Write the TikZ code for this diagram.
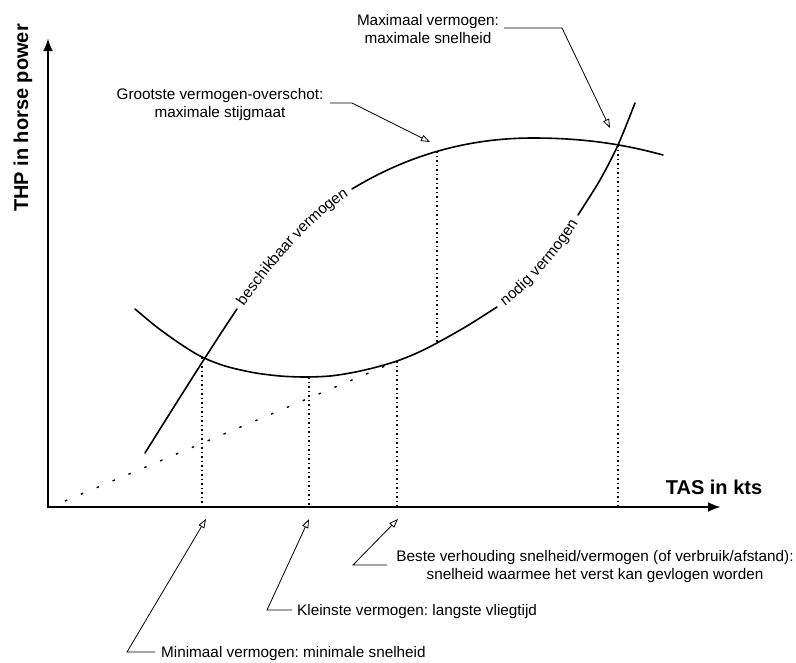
\documentclass[tikz,border=0pt]{standalone}
\usepackage{fontspec}
\setmainfont{Liberation Sans}
\usetikzlibrary{arrows.meta,decorations.text}
\newcommand\curvefont{\fontsize{15.3}{18}\selectfont}
\frenchspacing
\begin{document}
\begin{tikzpicture}[x=1pt,y=-1pt,
  axisline/.style={line width=2.6pt, line join=miter, {Latex[length=13pt,width=10pt]}-{Latex[length=13pt,width=10pt]}},
  curveline/.style={line width=1.6pt, line cap=round},
  vdots/.style={line width=1.3pt, dash pattern=on 1.8pt off 2.7pt},
  tangentdots/.style={line width=1.4pt, dash pattern=on 2.5pt off 14.7pt},
  leader/.style={line width=0.8pt, -{Triangle[open,length=9pt,width=6.5pt]}},
  annot/.style={font=\fontsize{15.3}{18}\selectfont, inner sep=0pt, align=center},
  axislabel/.style={font=\fontsize{20}{24}\selectfont\bfseries, inner sep=0pt},
  curvelabel/.style={decorate, decoration={text along path, text align=center, raise=-4.2pt}}
]
\useasboundingbox (0,0) rectangle (796,662);

% axes
\coordinate (ytip) at (48,38);
\coordinate (origin) at (48,507);
\coordinate (xtip) at (721,507);
\draw[axisline] (ytip) -- (origin) -- (xtip);
\node[axislabel, rotate=90] (ylab) at (23,118) {THP in horse power};
\node[axislabel] (xlab) at (714,487) {TAS in kts};

% key points
\coordinate (pA) at (202,357);   % intersection low
\coordinate (pMin) at (309,377); % minimum power
\coordinate (pT) at (397,361);   % tangent point
\coordinate (pExA) at (437,151); % max excess, available curve
\coordinate (pExR) at (437,343); % max excess, required curve
\coordinate (pB) at (618,145);   % intersection high
\coordinate (bA) at (202,507);
\coordinate (bMin) at (309,507);
\coordinate (bT) at (397,507);
\coordinate (bB) at (618,507);
\coordinate (t0) at (65,501);

% dotted construction lines
\draw[vdots] (pA) -- (bA);
\draw[vdots] (pMin) -- (bMin);
\draw[vdots] (pT) -- (bT);
\draw[vdots] (pExA) -- (pExR);
\draw[vdots] (pB) -- (bB);
\draw[tangentdots] (t0) -- (pT);

% available power curve
\draw[curveline] (145,453) .. controls (170,413) and (212,346) .. (237,309);
\path[curvelabel, decoration={text={|\curvefont|beschikbaar vermogen}}]
  (237,309) .. controls (265,267) and (315,208) .. (352,189);
\draw[curveline] (352,189) .. controls (390,166) and (450,138) .. (533,138)
  .. controls (590,138) and (630,146) .. (663,155);

% required power curve
\draw[curveline] plot[smooth] coordinates {(135,309) (158,328) (182,345) (202,357) (225,366) (253,372.5) (280,376) (305,377) (330,376) (353,372.5) (375,367.5) (397,361) (417,353) (437,343) (467,326) (497,307)};
\path[curvelabel, decoration={text={|\curvefont|nodig vermogen}}]
  (497,307) .. controls (527,285) and (558,250) .. (578,215);
\draw[curveline] plot[smooth] coordinates {(578,215) (600,180) (618,145) (635,103)};

% annotations
\node[annot] (grootste) at (220,105) {Grootste vermogen-overschot:\\maximale stijgmaat};
\coordinate (g1) at (330,103);
\coordinate (g2) at (352,103);
\coordinate (gtip) at (430,142);
\draw[leader] (g1) -- (g2) -- (gtip);

\node[annot] (maximaal) at (428,29) {Maximaal vermogen:\\maximale snelheid};
\coordinate (m1) at (504,28);
\coordinate (m2) at (562,28);
\coordinate (mtip) at (610,128);
\draw[leader] (m1) -- (m2) -- (mtip);

\node[annot] (beste) at (595,567) {Beste verhouding snelheid/vermogen (of verbruik/afstand):\\snelheid waarmee het verst kan gevlogen worden};
\coordinate (b1) at (387,565);
\coordinate (b2) at (353,565);
\coordinate (btip) at (398,519);
\draw[leader] (b1) -- (b2) -- (btip);

\node[annot, anchor=west] (kleinste) at (297,612) {Kleinste vermogen: langste vliegtijd};
\coordinate (k1) at (292,610);
\coordinate (k2) at (267,610);
\coordinate (ktip) at (309,519);
\draw[leader] (k1) -- (k2) -- (ktip);

\node[annot, anchor=west] (minimaal) at (161,654) {Minimaal vermogen: minimale snelheid};
\coordinate (n1) at (155,652);
\coordinate (n2) at (127,652);
\coordinate (ntip) at (206,519);
\draw[leader] (n1) -- (n2) -- (ntip);
\end{tikzpicture}
\end{document}
